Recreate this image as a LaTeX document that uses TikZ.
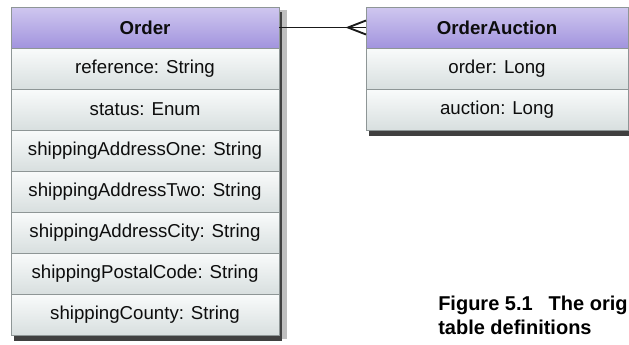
\documentclass[tikz,border=0pt]{standalone}
\usepackage{fontspec}
\setmainfont{Liberation Sans}
\usetikzlibrary{positioning,backgrounds}

\definecolor{headtop}{HTML}{CFC7EF}
\definecolor{headbot}{HTML}{A294DE}
\definecolor{rowtop}{HTML}{F9FBFB}
\definecolor{rowbot}{HTML}{D8DFDF}
\definecolor{rimgray}{HTML}{8E9696}

\begin{document}
\begin{tikzpicture}[x=0.75pt, y=-0.75pt]
\useasboundingbox (0,0) rectangle (629,344);

\coordinate (T1) at (11, 7);
\coordinate (T2) at (366, 7);
\coordinate (C1) at (438, 310);
\coordinate (C2) at (438, 334);


\tikzset{BoxStyle/.style = {
 rectangle,
 draw = rimgray,
 line width = 0.6pt,
 inner sep = 0pt,
 outer sep = 0pt,
 minimum height = 30.75pt,
 text = black!95,
 font = \fontsize{14}{16}\selectfont} }
\tikzset{HeadStyle/.style = {BoxStyle, top color=headtop, bottom color=headbot, font=\fontsize{14}{16}\selectfont\bfseries} }
\tikzset{RowStyle/.style = {BoxStyle, top color=rowtop, bottom color=rowbot} }
\tikzset{LinkStyle/.style = {line width=1.4pt, black!90} }
\tikzset{CaptionStyle/.style = {anchor=base west, inner sep=0pt, font=\fontsize{15}{18}\selectfont\bfseries} }

\node[HeadStyle, anchor=north west, minimum width=201pt] (O_head) at (T1) {Order};
\node[RowStyle, below=0pt of O_head, minimum width=201pt] (O_ref) {reference: String};
\node[RowStyle, below=0pt of O_ref, minimum width=201pt] (O_status) {status: Enum};
\node[RowStyle, below=0pt of O_status, minimum width=201pt] (O_one) {shippingAddressOne: String};
\node[RowStyle, below=0pt of O_one, minimum width=201pt] (O_two) {shippingAddressTwo: String};
\node[RowStyle, below=0pt of O_two, minimum width=201pt] (O_city) {shippingAddressCity: String};
\node[RowStyle, below=0pt of O_city, minimum width=201pt] (O_postal) {shippingPostalCode: String};
\node[RowStyle, below=0pt of O_postal, minimum width=201pt] (O_county) {shippingCounty: String};

\node[HeadStyle, anchor=north west, minimum width=196.5pt] (A_head) at (T2) {OrderAuction};
\node[RowStyle, below=0pt of A_head, minimum width=196.5pt] (A_order) {order: Long};
\node[RowStyle, below=0pt of A_order, minimum width=196.5pt] (A_auction) {auction: Long};

% shadows
\begin{scope}[on background layer]
\fill[black!25] ([xshift=2pt,yshift=-2pt]O_head.north west) rectangle ([xshift=6pt,yshift=-3pt]O_county.south east);
\fill[black!75] ([xshift=2pt,yshift=-4pt]O_head.north west) rectangle ([xshift=2.5pt,yshift=-4.5pt]O_county.south east);
\fill[black!25] ([xshift=2pt,yshift=-2pt]A_head.north west) rectangle ([xshift=6pt,yshift=-3pt]A_auction.south east);
\fill[black!75] ([xshift=2pt,yshift=-4pt]A_head.north west) rectangle ([xshift=2.5pt,yshift=-4.5pt]A_auction.south east);
\end{scope}

\coordinate (Foot) at ([xshift=-13.5pt]A_head.west);
\draw[LinkStyle] (O_head.east) -- (A_head.west);
\draw[LinkStyle] ([yshift=5.25pt]A_head.west) -- (Foot) -- ([yshift=-5.25pt]A_head.west);

\node[CaptionStyle] (Cap1) at (C1) {Figure 5.1\hspace{12pt}The orig};
\node[CaptionStyle] (Cap2) at (C2) {table definitions};

\end{tikzpicture}
\end{document}
